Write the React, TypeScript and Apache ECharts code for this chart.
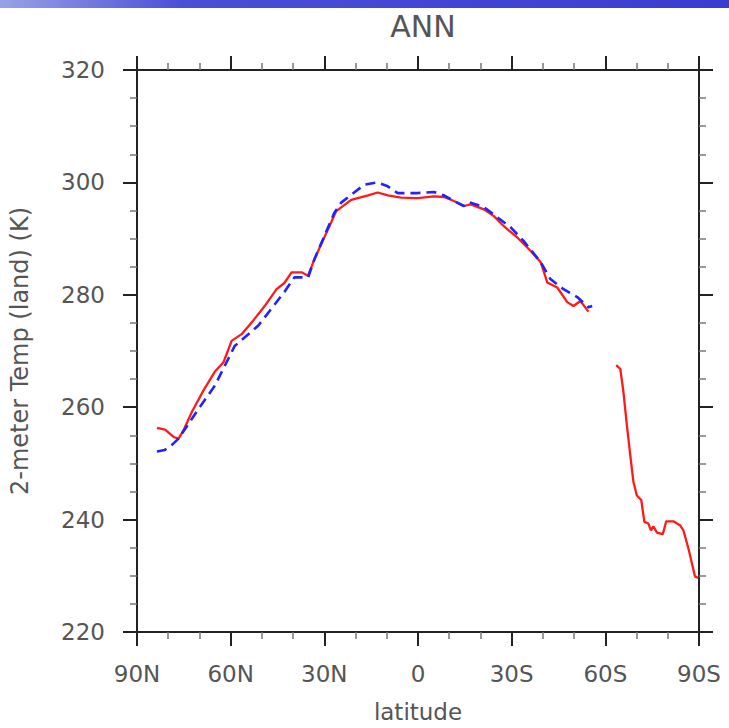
import React, { useEffect, useRef } from "react";
import * as echarts from "echarts";

const TITLE = "ANN";
const X_NAME = "latitude";
const Y_NAME = "2-meter Temp (land) (K)";

// latitude (positive = N, negative = S), temperature K
const redLat = [83.6, 81.0, 78.3, 76.7, 75.1, 72.4, 68.7, 65.1, 62.3, 59.7, 56.5, 52.8, 49.1, 45.3, 42.8, 40.5, 37.3, 35.2, 33.2, 27.8, 26.2, 21.4, 16.0, 12.9, 9.7, 5.4, 0.1, -5.1, -8.3, -11.5, -14.7, -16.9, -21.1, -24.3, -27.5, -31.8, -36.1, -39.3, -41.4, -44.6, -47.8, -49.8, -52.0, -54.6, -59.0, -63.5, -64.8, -65.8, -66.9, -68.0, -69.0, -70.1, -71.5, -72.5, -73.8, -74.6, -75.4, -76.5, -78.4, -79.5, -81.8, -83.9, -85.0, -86.6, -88.7, -89.8];
const redTemp: (number | null)[] = [256.3, 256.0, 254.7, 254.4, 255.9, 259.2, 263.0, 266.3, 268.0, 271.8, 273.0, 275.4, 278.0, 281.0, 282.1, 284.0, 284.0, 283.4, 286.3, 292.9, 294.9, 296.9, 297.7, 298.2, 297.7, 297.3, 297.2, 297.5, 297.4, 296.7, 295.8, 296.1, 295.2, 294.0, 292.2, 290.2, 287.8, 285.8, 282.2, 281.3, 278.7, 278.0, 278.9, 277.0, null, 267.5, 266.8, 262.7, 256.8, 251.4, 246.7, 244.3, 243.5, 239.6, 239.3, 238.1, 238.8, 237.7, 237.4, 239.7, 239.7, 239.0, 238.1, 234.9, 229.9, 229.6];

const blueLat = [83.6, 81.1, 78.8, 76.7, 70.3, 65.1, 58.7, 51.2, 42.8, 39.6, 35.2, 33.2, 26.8, 24.6, 21.4, 17.2, 12.9, 9.7, 6.5, 0.1, -5.1, -8.3, -11.5, -14.7, -16.3, -21.1, -25.4, -29.7, -33.8, -39.3, -42.4, -46.6, -51.0, -54.6, -55.8];
const blueTemp = [252.1, 252.4, 253.3, 254.4, 259.7, 263.8, 270.9, 274.5, 280.5, 283.1, 283.1, 286.3, 294.6, 296.4, 297.8, 299.6, 300.0, 299.3, 298.1, 298.1, 298.3, 297.7, 296.7, 295.8, 296.5, 295.6, 293.8, 292.0, 289.6, 285.8, 282.8, 281.0, 279.6, 277.8, 278.0];

const FONT = "DejaVu Sans";
const TXT = "#555555";

export default function App() {
  const ref = useRef<HTMLDivElement>(null);
  useEffect(() => {
    if (!ref.current) return;
    const chart = echarts.init(ref.current, undefined, { renderer: "svg" });
    const latFmt = (v: number) => (v > 0 ? `${v}N` : v < 0 ? `${-v}S` : "0");
    const xBase = (pos: "top" | "bottom", label: boolean) => ({
      type: "value",
      position: pos,
      min: -90,
      max: 90,
      interval: 30,
      inverse: true,
      name: label ? X_NAME : "",
      nameLocation: "middle",
      nameGap: 68,
      nameTextStyle: { fontFamily: FONT, fontSize: 23, color: TXT },
      axisLine: { show: true, onZero: false, lineStyle: { color: "#222", width: 2 } },
      axisTick: { show: true, inside: false, length: 14, lineStyle: { color: "#222", width: 2 } },
      minorTick: { show: true, splitNumber: 3, length: 7, lineStyle: { color: "#777", width: 1.5 } },
      splitLine: { show: false },
      minorSplitLine: { show: false },
      axisLabel: { show: label, margin: 30, formatter: latFmt, fontFamily: FONT, fontSize: 23, color: TXT },
    });
    const yBase = (pos: "left" | "right", label: boolean) => ({
      type: "value",
      position: pos,
      min: 220,
      max: 320,
      interval: 20,
      name: label ? Y_NAME : "",
      nameLocation: "middle",
      nameGap: 105,
      nameTextStyle: { fontFamily: FONT, fontSize: 24, color: TXT },
      axisLine: { show: true, onZero: false, lineStyle: { color: "#222", width: 2 } },
      axisTick: { show: true, inside: false, length: 14, lineStyle: { color: "#222", width: 2 } },
      minorTick: { show: true, splitNumber: 4, length: 7, lineStyle: { color: "#777", width: 1.5 } },
      splitLine: { show: false },
      minorSplitLine: { show: false },
      axisLabel: { show: label, margin: 32, fontFamily: FONT, fontSize: 23, color: TXT },
    });
    chart.setOption({
      animation: false,
      backgroundColor: "#ffffff",
      title: {
        text: TITLE,
        left: 418,
        textAlign: "center",
        top: 6,
        textStyle: { fontFamily: FONT, fontSize: 30, fontWeight: "normal", color: TXT },
      },
      graphic: [
        {
          type: "rect",
          shape: { x: 0, y: 0, width: 729, height: 8 },
          style: {
            fill: new echarts.graphic.LinearGradient(0, 0, 1, 0, [
              { offset: 0, color: "#9aa2e6" },
              { offset: 0.25, color: "#4a4fd6" },
              { offset: 1, color: "#3a3cd0" },
            ]),
          },
          silent: true,
        },
      ],
      grid: { left: 135, right: 30, top: 70, bottom: 94, containLabel: false },
      xAxis: [xBase("bottom", true), xBase("top", false)],
      yAxis: [yBase("left", true), yBase("right", false)],
      series: [
        {
          type: "line",
          xAxisIndex: 0,
          yAxisIndex: 0,
          data: redLat.map((x, i) => [x, redTemp[i] === null ? "-" : redTemp[i]]),
          showSymbol: false,
          connectNulls: false,
          lineStyle: { color: "#ff1a1a", width: 2.3 },
          itemStyle: { color: "#ff1a1a" },
        },
        {
          type: "line",
          xAxisIndex: 0,
          yAxisIndex: 0,
          data: blueLat.map((x, i) => [x, blueTemp[i]]),
          showSymbol: false,
          lineStyle: { color: "#2222ff", width: 2.6, type: [10, 6] },
          itemStyle: { color: "#2222ff" },
        },
      ],
    });
    return () => chart.dispose();
  }, []);
  return (
    <div
      ref={ref}
      style={{ position: "fixed", left: 0, top: 0, width: 729, height: 728, background: "#fff" }}
    />
  );
}
